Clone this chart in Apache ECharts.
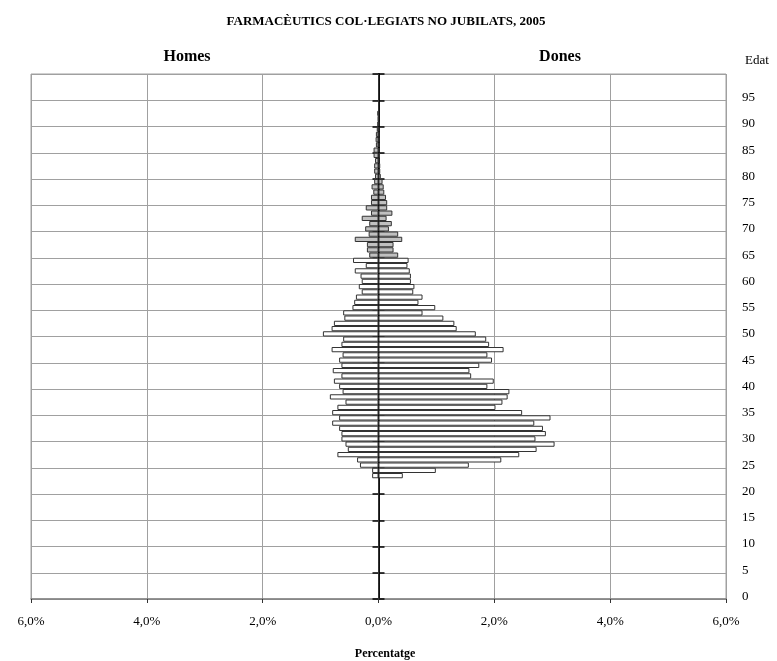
<!DOCTYPE html>
<html>
<head>
<meta charset="utf-8">
<script src="https://cdn.jsdelivr.net/npm/echarts@6/dist/echarts.min.js"></script>
<style>html,body{margin:0;padding:0;background:#fff}#c{width:777px;height:661px}</style>
</head>
<body>
<div id="c"></div>
<script>
// Ages 0..99 (category labels)
const ageLabels = ['0','1','2','3','4','5','6','7','8','9','10','11','12','13','14','15','16','17','18','19','20','21','22','23','24','25','26','27','28','29','30','31','32','33','34','35','36','37','38','39','40','41','42','43','44','45','46','47','48','49','50','51','52','53','54','55','56','57','58','59','60','61','62','63','64','65','66','67','68','69','70','71','72','73','74','75','76','77','78','79','80','81','82','83','84','85','86','87','88','89','90','91','92','93','94','95','96','97','98','99'];

// Homes (percent), age 0..99
const homes = [
  0,0,0,0,0,0,0,0,0,0,0,0,0,0,0,0,0,0,0,0,0,0,0,
  0.11,0.11,0.32,0.37,0.71,0.53,0.57,0.64,0.64,0.68,0.80,0.68,0.80,0.71,0.57,0.84,0.62,
  0.68,0.77,0.64,0.79,0.64,0.68,0.62,0.81,0.64,0.61,0.96,0.81,0.77,0.59,0.61,0.45,0.42,
  0.39,0.29,0.34,0.29,0.31,0.41,0.22,0.44,0.16,0.20,0.20,0.41,0.17,0.23,0.16,0.29,0.13,
  0.22,0.13,0.13,0.09,0.12,0.075,0.06,0.075,0.075,0.06,0.085,0.085,0.045,0.05,0.045,0.03,
  0.02,0.01,0.02,
  0,0,0,0,0,0,0
];
// Dones (percent), age 0..99
const dones = [
  0,0,0,0,0,0,0,0,0,0,0,0,0,0,0,0,0,0,0,0,0,0,0,
  0.42,0.99,1.56,2.12,2.43,2.73,3.04,2.71,2.89,2.84,2.69,2.97,2.48,2.02,2.14,2.23,2.26,
  1.88,1.99,1.60,1.57,1.74,1.96,1.88,2.16,1.91,1.86,1.68,1.35,1.31,1.12,0.76,0.98,0.69,
  0.76,0.60,0.62,0.56,0.56,0.54,0.50,0.52,0.34,0.26,0.26,0.41,0.34,0.18,0.23,0.14,0.24,
  0.15,0.15,0.13,0.10,0.09,0.07,0.04,0.03,0.03,0.012,0.023,0.017,0.017,0.017,0.012,0.012,
  0.01,0,0,
  0,0,0,0,0,0,0
];
const retiredAge = 65;
const xTicks = [-6, -4, -2, 0, 2, 4, 6];

const FONT = '"Liberation Serif", "DejaVu Serif", serif';
const GRAY_FILL = '#c0c0c0';
const GRID_COLOR = '#a0a0a0';

function items(arr, sign) {
  return arr.map((v, i) => ({
    value: sign * v,
    itemStyle: { color: i >= retiredAge ? GRAY_FILL : '#ffffff' }
  }));
}

const chart = echarts.init(document.getElementById('c'), null, { renderer: 'canvas' });
const barCommon = {
  type: 'bar',
  xAxisIndex: 0,
  yAxisIndex: 0,
  barGap: '-100%',
  barCategoryGap: '0%',
  itemStyle: { borderColor: '#333333', borderWidth: 1 },
  emphasis: { disabled: true },
  animation: false
};
chart.setOption({
  animation: false,
  backgroundColor: '#ffffff',
  grid: { left: 31, top: 74, width: 695, height: 525, show: true, borderColor: GRID_COLOR, borderWidth: 1, backgroundColor: 'transparent' },
  title: [
    { text: 'FARMACÈUTICS COL·LEGIATS NO JUBILATS, 2005', left: 381, top: 10, textAlign: 'center',
      textStyle: { fontFamily: FONT, fontWeight: 'bold', fontSize: 13, color: '#000' } },
    { text: 'Homes', left: 182, top: 44, textAlign: 'center',
      textStyle: { fontFamily: FONT, fontWeight: 'bold', fontSize: 16, color: '#000' } },
    { text: 'Dones', left: 555, top: 44, textAlign: 'center',
      textStyle: { fontFamily: FONT, fontWeight: 'bold', fontSize: 16, color: '#000' } },
    { text: 'Edat', left: 740, top: 49,
      textStyle: { fontFamily: FONT, fontWeight: 'normal', fontSize: 13, color: '#000' } },
    { text: 'Percentatge', left: 380, top: 643, textAlign: 'center',
      textStyle: { fontFamily: FONT, fontWeight: 'bold', fontSize: 12, color: '#000' } }
  ],
  xAxis: [
    {
      type: 'value', min: -6, max: 6, interval: 2, position: 'bottom',
      axisLine: { show: true, onZero: false, lineStyle: { color: '#808080', width: 1.5 } },
      axisTick: { show: true, length: 4, lineStyle: { color: '#333' } },
      splitLine: { show: true, lineStyle: { color: GRID_COLOR, width: 1 } },
      axisLabel: {
        margin: 16, fontFamily: FONT, fontSize: 13, color: '#000',
        formatter: v => xTicks.indexOf(v) >= 0 ? Math.abs(v).toFixed(1).replace('.', ',') + '%' : ''
      }
    },
    {
      type: 'value', min: -6, max: 6, interval: 2, position: 'top', show: false,
      axisLine: { onZero: false },
      splitLine: { show: false }
    }
  ],
  yAxis: [
    {
      type: 'category', data: ageLabels, position: 'right', boundaryGap: true,
      axisLine: { show: false, onZero: false },
      axisTick: { show: false },
      splitLine: { show: true, interval: 4, lineStyle: { color: GRID_COLOR, width: 1 } },
      axisLabel: { interval: 4, margin: 16, fontFamily: FONT, fontSize: 13, color: '#000' }
    },
    {
      type: 'category', data: ageLabels, position: 'left', boundaryGap: true,
      axisLine: { show: true, onZero: true, lineStyle: { color: '#000', width: 1.5 } },
      axisTick: { show: true, interval: 4, length: 6, lineStyle: { color: '#000', width: 1.5 } },
      splitLine: { show: false },
      axisLabel: { show: false }
    },
    {
      type: 'category', data: ageLabels, position: 'left', boundaryGap: true,
      axisLine: { show: true, onZero: true, lineStyle: { color: '#000', width: 1.5 } },
      axisTick: { show: true, inside: true, interval: 4, length: 6, lineStyle: { color: '#000', width: 1.5 } },
      splitLine: { show: false },
      axisLabel: { show: false }
    }
  ],
  series: [
    Object.assign({ name: 'Homes', data: items(homes, -1) }, barCommon),
    Object.assign({ name: 'Dones', data: items(dones, 1) }, barCommon)
  ]
});
</script>
</body>
</html>
